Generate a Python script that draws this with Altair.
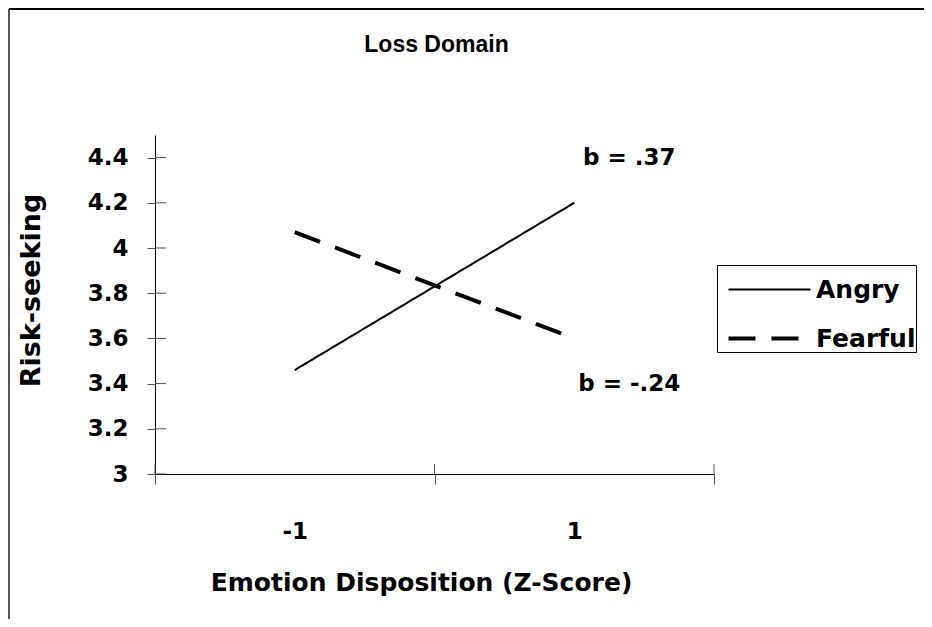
import altair as alt
import pandas as pd

# ---- data ----
chart_title = "Loss Domain"
categories = ["-1", "1"]
series = ["Angry", "Fearful"]
angry_vals = [3.46, 4.20]
fearful_vals = [4.07, 3.60]
ann_texts = ["b = .37", "b = -.24"]
ann_vals = [4.40, 3.40]
y_tick_vals = [3.0, 3.2, 3.4, 3.6, 3.8, 4.0, 4.2, 4.4]
x_bounds = [0, 1, 2]

FONT = "DejaVu Sans"
W, H = 559, 339

rows = []
for s, vals in zip(series, [angry_vals, fearful_vals]):
    for i, (c, v) in enumerate(zip(categories, vals)):
        rows.append({"series": s, "cat": c, "xpos": i + 0.5, "value": v})
df = pd.DataFrame(rows)

ann_df = pd.DataFrame({"xpos": [len(categories) - 0.5] * len(ann_texts),
                       "value": ann_vals, "text": ann_texts})
ytick_df = pd.DataFrame({"value": y_tick_vals})
xtick_df = pd.DataFrame({"xpos": x_bounds})

label_expr = " : ".join(
    [f"datum.value == {i + 0.5} ? '{c}'" for i, c in enumerate(categories)]) + " : ''"

x_enc = alt.X(
    "xpos:Q",
    scale=alt.Scale(domain=[0, len(categories)], nice=False, zero=False),
    axis=alt.Axis(
        values=[0, 0.5, 1, 1.5, 2],
        labelExpr=label_expr,
        tickOpacity={"condition": {"test": "datum.value % 1 === 0", "value": 1}, "value": 0},
        tickSize=10, tickColor="#555", domainColor="black",
        labelFont=FONT, labelFontSize=23, labelFontWeight="bold", labelColor="black",
        labelPadding=36,
        title="Emotion Disposition (Z-Score)",
        titleFont=FONT, titleFontSize=25, titleFontWeight="bold", titleColor="black",
        titleX=266, titleY=116, titleBaseline="alphabetic", titleAlign="center",
        grid=False,
    ),
)
y_enc = alt.Y(
    "value:Q",
    scale=alt.Scale(domain=[3, 4.5], nice=False, zero=False),
    axis=alt.Axis(
        values=y_tick_vals, format="~g",
        tickSize=8, tickColor="#555", domainColor="black",
        labelFont=FONT, labelFontSize=23, labelFontWeight="bold", labelColor="black",
        labelPadding=19,
        title="Risk-seeking",
        titleFont=FONT, titleFontSize=27, titleFontWeight="bold", titleColor="black",
        titleX=-116, titleY=155, titleBaseline="alphabetic", titleAlign="center",
        grid=False,
    ),
)

legend_cfg = dict(
    title=" ", titleFontSize=12, titlePadding=0,
    orient="none", legendX=562, legendY=130,
    strokeColor="black", fillColor="white", padding=0,
    symbolType="M-0.1,0H8.1", symbolSize=400, symbolStrokeColor="black",
    labelFont=FONT, labelFontSize=25, labelFontWeight="bold", labelColor="black",
    labelOffset=74, rowPadding=23,
)

lines = alt.Chart(df).mark_line(color="black", strokeCap="butt").encode(
    x=x_enc,
    y=y_enc,
    strokeDash=alt.StrokeDash(
        "series:N",
        scale=alt.Scale(domain=series, range=[[1, 0], [27, 16]]),
        legend=alt.Legend(**legend_cfg),
    ),
    strokeWidth=alt.StrokeWidth(
        "series:N",
        scale=alt.Scale(domain=series, range=[2, 4]),
        legend=alt.Legend(**legend_cfg),
    ),
)

ann = alt.Chart(ann_df).mark_text(
    font=FONT, fontSize=23, fontWeight="bold", color="black", dx=55, align="center"
).encode(x=alt.X("xpos:Q"), y=alt.Y("value:Q"), text="text:N")

ytick_inner = alt.Chart(ytick_df).mark_rule(color="#555").encode(
    y=alt.Y("value:Q"), x=alt.value(0), x2=alt.value(11))
xtick_inner = alt.Chart(xtick_df).mark_rule(color="#555").encode(
    x=alt.X("xpos:Q"), y=alt.value(H), y2=alt.value(H - 10))

one = alt.Data(values=[{"t": chart_title}])
title_mark = alt.Chart(one).mark_text(
    font="Liberation Sans", fontSize=23, fontWeight="bold", color="black",
    align="center", baseline="middle"
).encode(x=alt.value(W / 2 + 2), y=alt.value(-90), text="t:N")
border_top = alt.Chart(one).mark_rule(color="black", strokeWidth=2).encode(
    x=alt.value(-146), x2=alt.value(770), y=alt.value(-126))
border_left = alt.Chart(one).mark_rule(color="#555", strokeWidth=2).encode(
    x=alt.value(-146), y=alt.value(-126), y2=alt.value(490))

chart = alt.layer(
    lines, ann, ytick_inner, xtick_inner, title_mark, border_top, border_left
).properties(
    width=W, height=H,
    autosize=alt.AutoSizeParams(type="none"),
    padding={"left": 147, "top": 127, "right": 210, "bottom": 145},
    background="white",
).configure_view(stroke=None)

chart.save("out.html", embed_options={"renderer": "svg", "actions": False})
